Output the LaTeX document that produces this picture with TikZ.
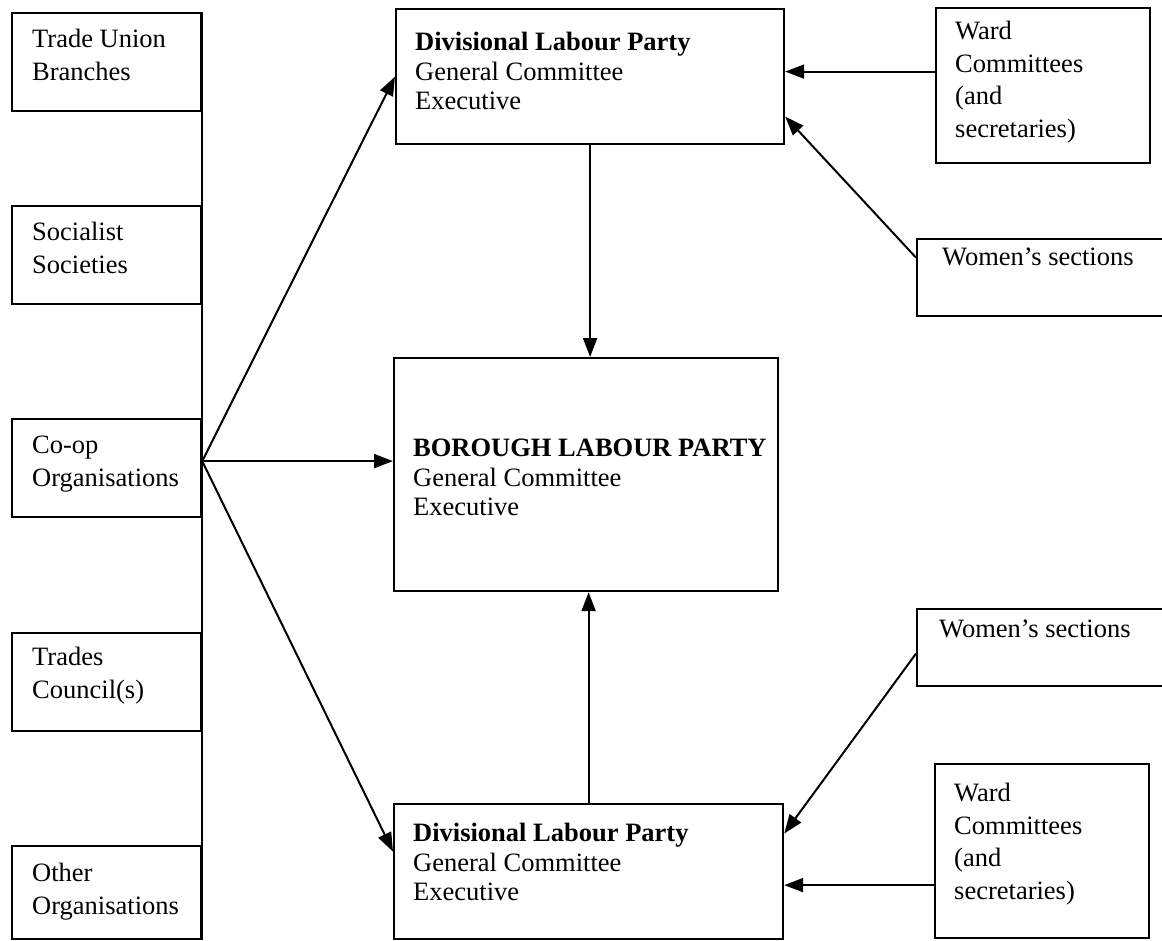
\documentclass[tikz,border=0pt]{standalone}
\usepackage{fontspec}
\setmainfont{Liberation Serif}
\usetikzlibrary{arrows.meta,positioning,calc}
\newcommand{\orgtxt}{\fontsize{26.5pt}{32.5pt}\selectfont}
\newcommand{\partytxt}{\fontsize{26.5pt}{29.5pt}\selectfont}
\tikzset{
  orgbox/.style={rectangle,draw=black,line width=2.2pt,inner sep=0pt,anchor=north west},
  lbl/.style={anchor=north west,align=left,inner sep=0pt,font=\orgtxt},
  partylbl/.style={lbl,font=\partytxt},
  arrow/.style={-{Triangle[length=19pt,width=14pt]},line width=2pt},
  spine/.style={line width=2.2pt}
}

\begin{document}
\begin{tikzpicture}[x=1pt,y=-1pt]
  \useasboundingbox (0,0) rectangle (1162,940);
  \clip (0,0) rectangle (1162,940);
  % affiliated organisations
  \node[orgbox,minimum width=189pt,minimum height=98pt,
    label={[lbl,xshift=21pt,yshift=-17pt]north west:Trade Union\\Branches}] (tub) at (11,12) {};
  \node[orgbox,minimum width=189pt,minimum height=98pt,
    label={[lbl,xshift=21pt,yshift=-17pt]north west:Socialist\\Societies}] (soc) at (11,205) {};
  \node[orgbox,minimum width=189pt,minimum height=98pt,
    label={[lbl,xshift=21pt,yshift=-18pt]north west:Co-op\\Organisations}] (coop) at (11,418) {};
  \node[orgbox,minimum width=189pt,minimum height=98pt,
    label={[lbl,xshift=21pt,yshift=-15pt]north west:Trades\\Council(s)}] (trades) at (11,632) {};
  \node[orgbox,minimum width=189pt,minimum height=93pt,
    label={[lbl,xshift=21pt,yshift=-18pt]north west:Other\\Organisations}] (other) at (11,845) {};
  \draw[spine] (tub.north east) -- (other.south east);
  \coordinate (hub) at ([yshift=7pt]coop.east);
  % party bodies
  \node[orgbox,minimum width=388pt,minimum height=135pt,
    label={[partylbl,xshift=20pt,yshift=-24pt]north west:\textbf{Divisional Labour Party}\\General Committee\\Executive}] (dlp1) at (395,8) {};
  \node[orgbox,minimum width=384pt,minimum height=233pt,
    label={[partylbl,anchor=west,xshift=20pt,yshift=-3pt]west:\textbf{BOROUGH LABOUR PARTY}\\General Committee\\Executive}] (borough) at (393,357) {};
  \node[orgbox,minimum width=389pt,minimum height=135pt,
    label={[partylbl,xshift=20pt,yshift=-20pt]north west:\textbf{Divisional Labour Party}\\General Committee\\Executive}] (dlp2) at (393,803) {};
  % ward level
  \node[orgbox,minimum width=214pt,minimum height=155pt,
    label={[lbl,xshift=20pt,yshift=-14pt]north west:Ward\\Committees\\(and\\secretaries)}] (ward1) at (935,7) {};
  \node[orgbox,minimum width=260pt,minimum height=77pt,
    label={[lbl,xshift=26pt,yshift=-10pt]north west:Women’s sections}] (women1) at (916,238) {};
  \node[orgbox,minimum width=260pt,minimum height=77pt,
    label={[lbl,xshift=23pt,yshift=-12pt]north west:Women’s sections}] (women2) at (916,608) {};
  \node[orgbox,minimum width=214pt,minimum height=174pt,
    label={[lbl,xshift=20pt,yshift=-20pt]north west:Ward\\Committees\\(and\\secretaries)}] (ward2) at (934,763) {};
  % connectors
  \draw[arrow] (hub) -- (dlp1.west);
  \draw[arrow] (hub) -- (hub -| borough.west);
  \draw[arrow] (hub) -- ([yshift=20pt]dlp2.west);
  \draw[arrow] (dlp1.south) -- (dlp1.south |- borough.north);
  \draw[arrow] (dlp2.north) -- (dlp2.north |- borough.south);
  \draw[arrow] ([yshift=14pt]ward1.west) -- ([yshift=14pt]ward1.west -| dlp1.east);
  \draw[arrow] ([yshift=20pt]women1.west) -- ([yshift=-40pt]dlp1.east);
  \draw[arrow] ([yshift=-6pt]women2.west) -- ([yshift=38pt]dlp2.east);
  \draw[arrow] ([yshift=-34pt]ward2.west) -- ([yshift=-34pt]ward2.west -| dlp2.east);
\end{tikzpicture}
\end{document}
